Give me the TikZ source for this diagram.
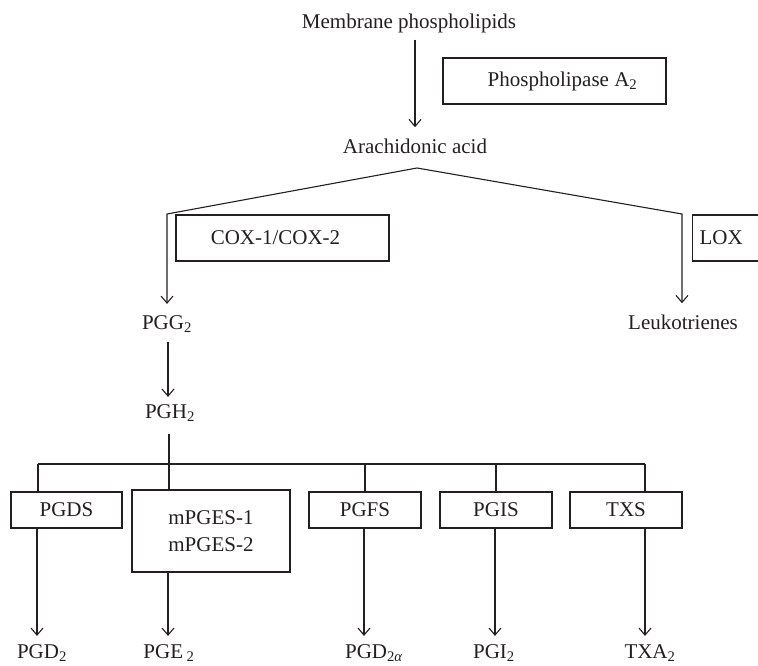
\documentclass[tikz,border=0pt]{standalone}
\usepackage{fontspec}
\setmainfont{Liberation Serif}
\usetikzlibrary{arrows.meta}
\definecolor{ink}{HTML}{231F20}
\begin{document}
\begin{tikzpicture}[x=1pt,y=-1pt,
  every node/.style={font=\fontsize{21}{27}\selectfont, text=ink, inner sep=0pt},
  lbl/.style={anchor=base},
  box/.style={draw=ink, line width=1.1pt, inner sep=0pt},
  ln/.style={draw=ink, line width=1.1pt},
  arr/.style={ln, -{Straight Barb[length=7pt,width=12pt,line width=1.1pt]}}]
\useasboundingbox (0,0) rectangle (758,666);
% top
\node[lbl] (mem) at (409,29) {Membrane phospholipids};
\node[box, minimum width=223pt, minimum height=46pt] (pla) at (554.5,81) {\hspace*{16pt}Phospholipase A\textsubscript{2}};
\node[lbl] (ara) at (415,154) {Arachidonic acid};
\draw[arr, shorten <=6pt, shorten >=12pt] (mem.south -| 415,0) -- (ara.north -| 415,0);
\coordinate (apex) at (417,168);
% COX / LOX
\node[box, minimum width=213pt, minimum height=46pt] (cox) at (282.5,238) {COX-1/COX-2\hspace*{14pt}};
\node[box, anchor=west, minimum height=46pt, inner xsep=7pt] (lox) at (692,238) {LOX\hspace*{40pt}};
\node[lbl] (pgg) at (167,329) {PGG\textsubscript{2}};
\node[lbl] (leu) at (683,329) {Leukotrienes};
\draw[arr, shorten >=11pt] (apex) -- (167,214) -- (167,214 |- pgg.north);
\draw[arr, shorten >=11pt] (apex) -- (682,214) -- (682,214 |- leu.north);
% PGH2
\node[lbl] (pgh) at (170,418) {PGH\textsubscript{2}};
\draw[arr, shorten <=10pt, shorten >=7pt] (168,0 |- pgg.south) -- (168,0 |- pgh.north);
% synthase boxes
\node[box, minimum width=111pt, minimum height=36pt] (pgds) at (66.5,510) {PGDS};
\node[box, minimum width=158pt, minimum height=82pt, align=center] (mpges) at (211,531) {mPGES-1\\mPGES-2};
\node[box, minimum width=112pt, minimum height=36pt] (pgfs) at (365,510) {PGFS};
\node[box, minimum width=112pt, minimum height=36pt] (pgis) at (496,510) {PGIS};
\node[box, minimum width=112pt, minimum height=36pt] (txs) at (626,510) {TXS};
\coordinate (bL) at (38,464);
\coordinate (bR) at (645,464);
\coordinate (bM) at (169,464);
\draw[ln] (bL) -- (bR);
\draw[ln, shorten <=13pt] (bM |- pgh.south) -- (bM |- mpges.north);
\draw[ln] (bL) -- (bL |- pgds.north);
\draw[ln] (pgfs.north |- bL) -- (pgfs.north);
\draw[ln] (pgis.north |- bL) -- (pgis.north);
\draw[ln] (bR) -- (bR |- txs.north);
% products
\node[lbl] (pgd) at (42,658) {PGD\textsubscript{2}};
\node[lbl] (pge) at (169,658) {PGE\,\textsubscript{2}};
\node[lbl] (pgf) at (374,658) {PGD\textsubscript{2\textit{α}}};
\node[lbl] (pgi) at (494,658) {PGI\textsubscript{2}};
\node[lbl] (txa) at (650,658) {TXA\textsubscript{2}};
\draw[arr, shorten >=8pt] (37,0 |- pgds.south) -- (37,0 |- pgd.north);
\draw[arr, shorten >=8pt] (168,0 |- mpges.south) -- (168,0 |- pge.north);
\draw[arr, shorten >=8pt] (364,0 |- pgfs.south) -- (364,0 |- pgf.north);
\draw[arr, shorten >=8pt] (495,0 |- pgis.south) -- (495,0 |- pgi.north);
\draw[arr, shorten >=8pt] (645,0 |- txs.south) -- (645,0 |- txa.north);
\end{tikzpicture}
\end{document}
